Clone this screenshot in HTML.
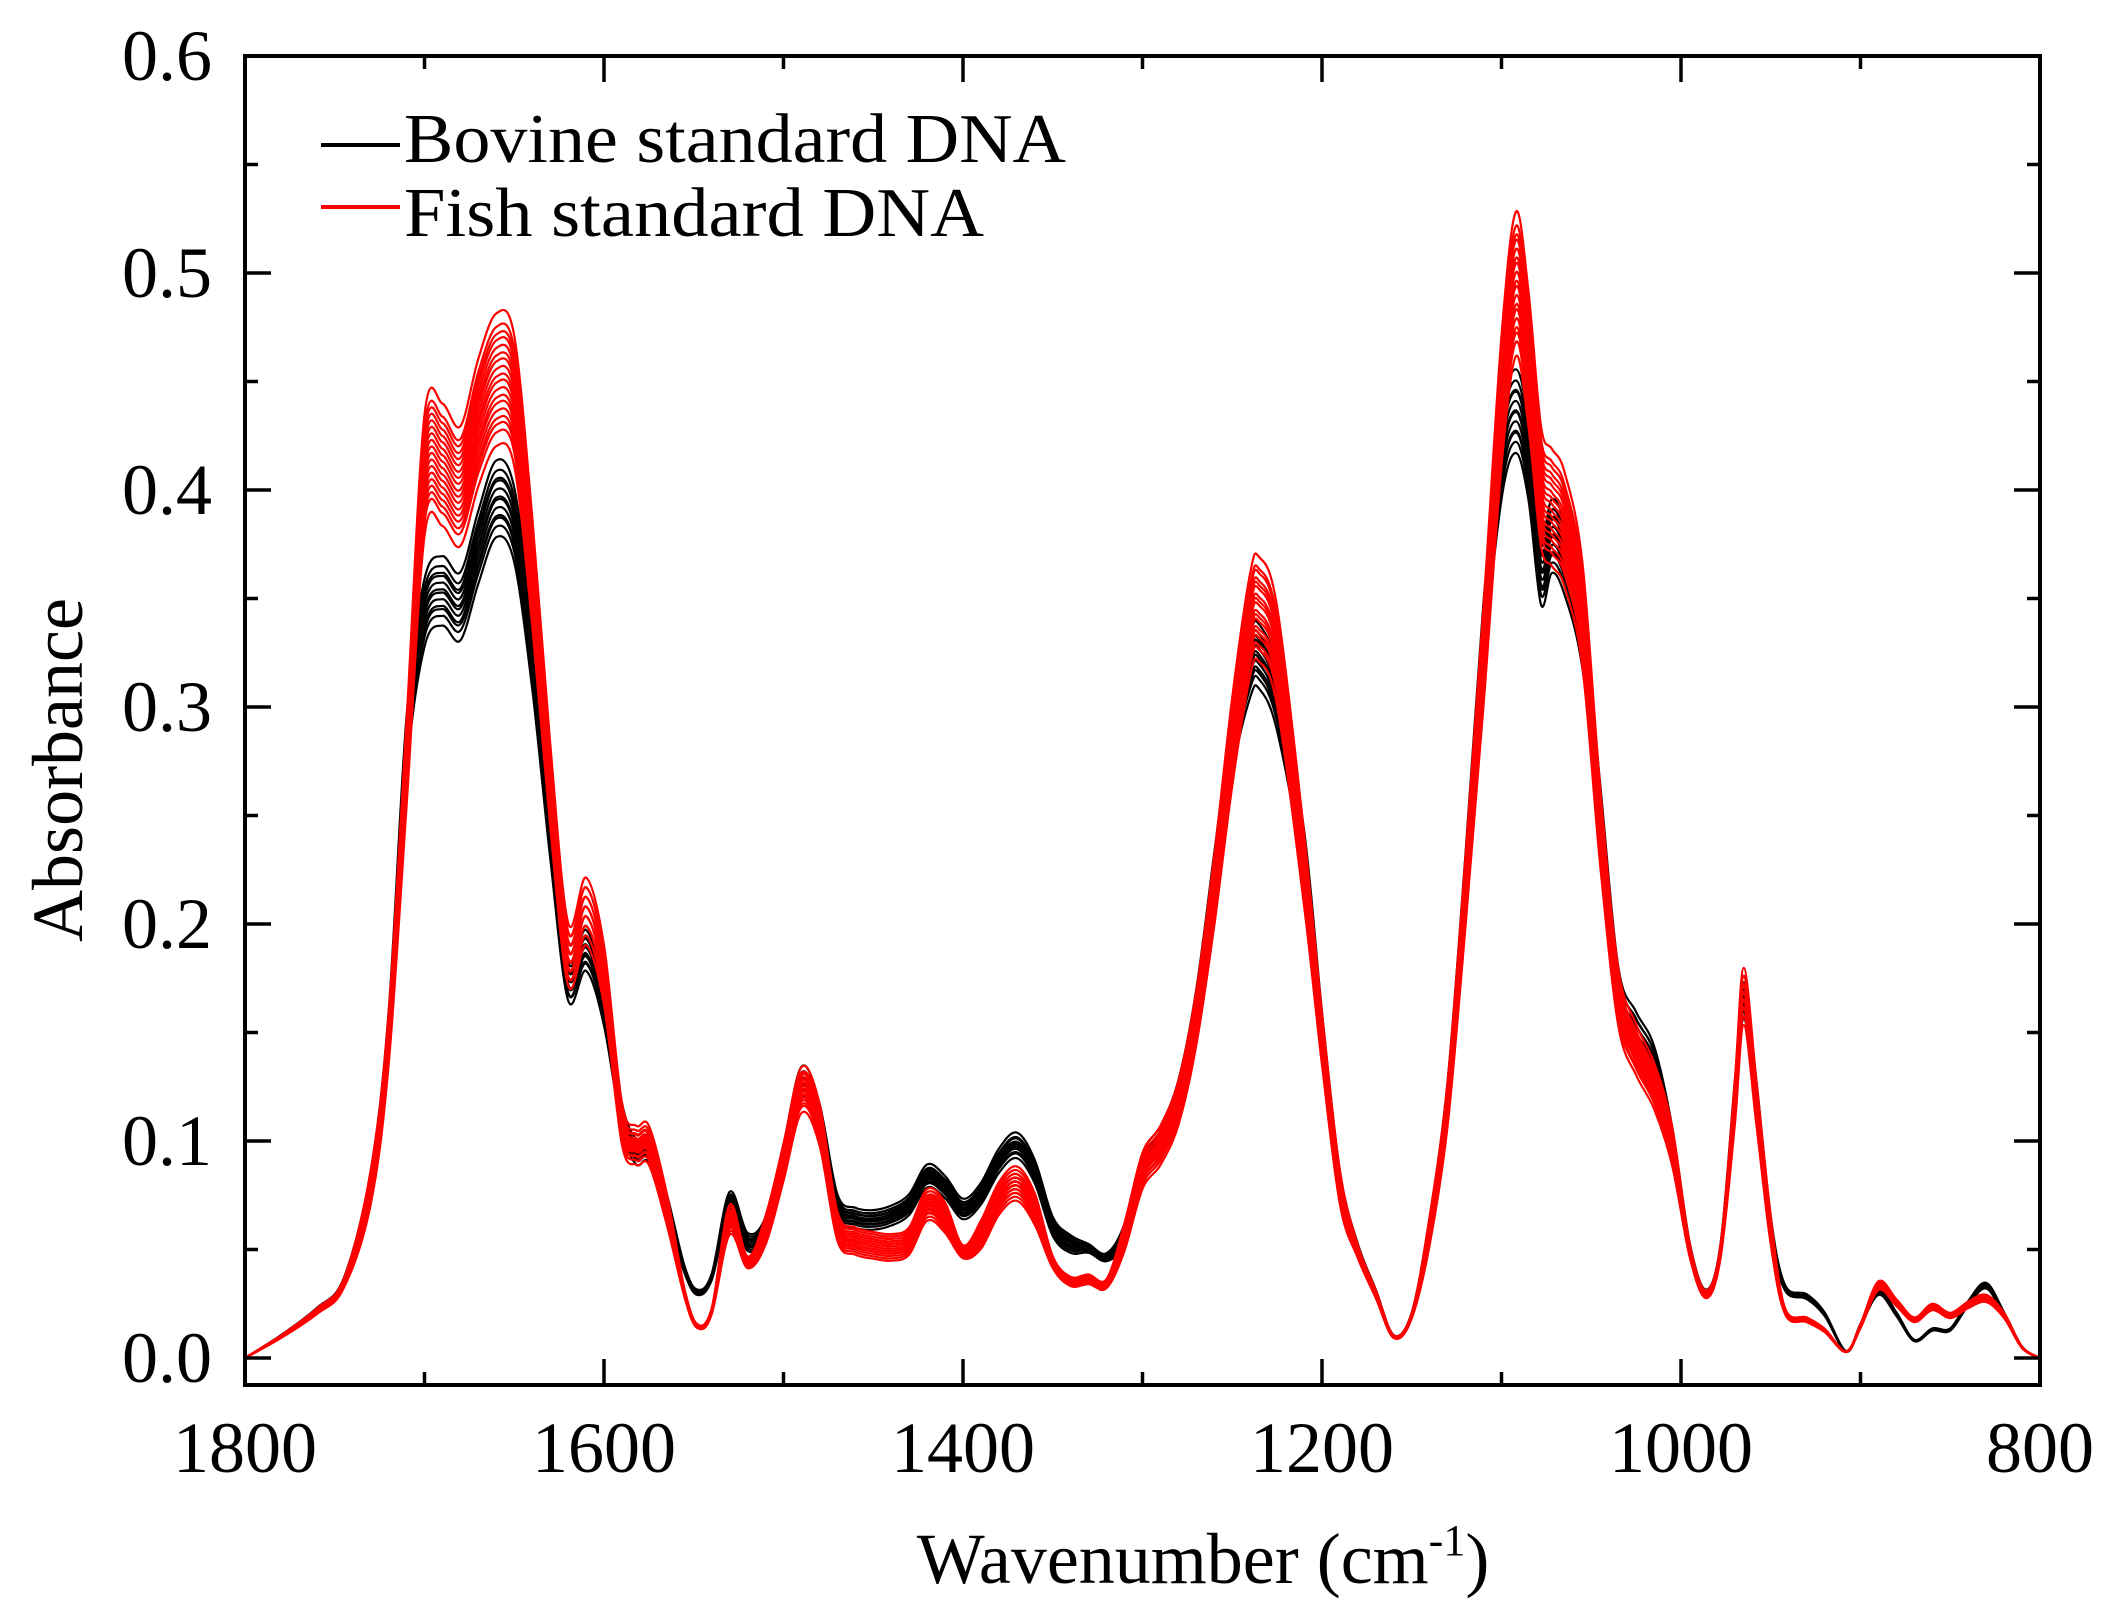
<!DOCTYPE html>
<html><head><meta charset="utf-8"><style>
html,body{margin:0;padding:0;background:#fff}
svg{display:block}
text{font-family:"Liberation Serif",serif;fill:#000}
</style></head><body>
<svg id="s" width="2120" height="1603" viewBox="0 0 2120 1603" xmlns="http://www.w3.org/2000/svg">
<g id="curves" fill="none" stroke-width="2.2" stroke-linejoin="round"></g>
<g id="axes"></g>
<line x1="321" y1="145" x2="400" y2="145" stroke="#000" stroke-width="4"/>
<line x1="321" y1="207" x2="400" y2="207" stroke="#f00" stroke-width="4"/>
<text x="404" y="162" font-size="70" textLength="662" lengthAdjust="spacingAndGlyphs">Bovine standard DNA</text>
<text x="404" y="236" font-size="70" textLength="580" lengthAdjust="spacingAndGlyphs">Fish standard DNA</text>
<text x="1203" y="1583" font-size="72" text-anchor="middle">Wavenumber (cm<tspan dy="-28" font-size="44">-1</tspan><tspan dy="28">)</tspan></text>
<text transform="translate(82,770) rotate(-90)" font-size="72" text-anchor="middle">Absorbance</text>
</svg>
<script>
const L=245,R=2040,T=56,B=1385,Y0=1358,YS=2170;
const X=w=>L+(1800-w)*(R-L)/1000, Y=v=>Y0-v*YS;
const NS="http://www.w3.org/2000/svg";
function el(t,a,p){const e=document.createElementNS(NS,t);for(const k in a)e.setAttribute(k,a[k]);p.appendChild(e);return e;}
const ax=document.getElementById('axes');
el('rect',{x:L,y:T,width:R-L,height:B-T,fill:'none',stroke:'#000','stroke-width':4},ax);
for(let w=1800;w>=800;w-=100){const x=X(w),maj=w%200==0,l=maj?26:13;
 el('line',{x1:x,y1:B,x2:x,y2:B-l,stroke:'#000','stroke-width':3.5},ax);
 el('line',{x1:x,y1:T,x2:x,y2:T+l,stroke:'#000','stroke-width':3.5},ax);
 if(maj){const t=el('text',{x:x,y:1472,'font-size':72,'text-anchor':'middle'},ax);t.textContent=w;}}
for(let i=0;i<=12;i++){const v=i*0.05,y=Y(v),maj=i%2==0,l=maj?26:13;
 el('line',{x1:L,y1:y,x2:L+l,y2:y,stroke:'#000','stroke-width':3.5},ax);
 el('line',{x1:R,y1:y,x2:R-l,y2:y,stroke:'#000','stroke-width':3.5},ax);
 if(maj){const t=el('text',{x:212,y:y+24,'font-size':72,'text-anchor':'end'},ax);t.textContent=(v).toFixed(1);}}
const black=[[1800,0],[1780,0.01],[1760,0.022],[1745,0.035],[1730,0.08],[1720,0.15],[1710,0.28],[1700,0.34],[1690,0.35],[1680,0.343],[1670,0.37],[1660,0.392],[1650,0.38],[1640,0.32],[1630,0.24],[1620,0.172],[1610,0.186],[1600,0.16],[1590,0.11],[1582,0.094],[1575,0.095],[1565,0.07],[1555,0.04],[1548,0.03],[1540,0.037],[1530,0.071],[1520,0.053],[1510,0.06],[1500,0.092],[1490,0.126],[1480,0.11],[1470,0.07],[1460,0.064],[1450,0.063],[1440,0.065],[1430,0.07],[1420,0.083],[1410,0.078],[1400,0.068],[1390,0.075],[1380,0.09],[1370,0.097],[1360,0.085],[1350,0.06],[1340,0.052],[1330,0.05],[1320,0.046],[1310,0.057],[1300,0.088],[1290,0.1],[1280,0.12],[1270,0.16],[1260,0.22],[1250,0.28],[1240,0.316],[1235,0.32],[1225,0.3],[1210,0.23],[1200,0.15],[1190,0.08],[1180,0.05],[1170,0.03],[1160,0.01],[1150,0.02],[1140,0.06],[1130,0.12],[1120,0.22],[1110,0.33],[1100,0.41],[1092,0.432],[1085,0.41],[1078,0.36],[1072,0.375],[1065,0.365],[1055,0.33],[1045,0.25],[1035,0.17],[1025,0.15],[1015,0.135],[1005,0.1],[995,0.05],[986,0.03],[978,0.05],[970,0.12],[965,0.163],[958,0.12],[950,0.06],[942,0.032],[930,0.028],[920,0.02],[908,0.003],[900,0.015],[890,0.03],[880,0.02],[870,0.008],[860,0.013],[850,0.013],[840,0.025],[830,0.033],[820,0.02],[810,0.005],[800,0]];
const redMods={1700:0.415,1690:0.42,1680:0.41,1670:0.44,1660:0.46,1650:0.45,1640:0.37,1630:0.27,1620:0.19,1610:0.21,1600:0.18,1582:0.1,1575:0.1,1555:0.03,1548:0.015,1540:0.022,1530:0.065,1520:0.045,1470:0.062,1460:0.055,1450:0.053,1440:0.052,1430:0.055,1420:0.072,1410:0.066,1400:0.05,1390:0.058,1380:0.075,1370:0.082,1360:0.07,1350:0.045,1340:0.036,1330:0.037,1320:0.035,1250:0.29,1240:0.345,1235:0.352,1225:0.33,1100:0.45,1092:0.505,1085:0.47,1078:0.41,1072:0.4,1065:0.39,1055:0.35,1025:0.145,1015:0.128,965:0.17,942:0.022,930:0.018,920:0.013,890:0.034,880:0.026,870:0.018,860:0.024,850:0.02,830:0.028};
const red=black.map(([w,v])=>[w,redMods[w]!==undefined?redMods[w]:v]);
function path(pts){const P=pts.map(([w,v])=>[X(w),Y(v)]);let d='M'+P[0][0].toFixed(1)+','+P[0][1].toFixed(1);
 for(let i=0;i<P.length-1;i++){const p0=P[Math.max(0,i-1)],p1=P[i],p2=P[i+1],p3=P[Math.min(P.length-1,i+2)];
 const c1=[p1[0]+(p2[0]-p0[0])/6,p1[1]+(p2[1]-p0[1])/6],c2=[p2[0]-(p3[0]-p1[0])/6,p2[1]-(p3[1]-p1[1])/6];
 d+='C'+c1.map(n=>n.toFixed(1))+' '+c2.map(n=>n.toFixed(1))+' '+p2.map(n=>n.toFixed(1));}return d;}
const g=document.getElementById('curves');
function variant(base,f,shift){return base.map(([w,v])=>[w,Math.max(0,v*f+ (v>0.05?shift:0))]);}
for(let i=0;i<12;i++){const f=0.97+0.08*i/11;el('path',{d:path(variant(black,f,(i%3-1)*0.002)),stroke:'#000'},g);}
for(let i=0;i<18;i++){const f=0.92+0.12*i/17;el('path',{d:path(variant(red,f,(i%3-1)*0.003)),stroke:'#f00'},g);}
</script>
</body></html>
